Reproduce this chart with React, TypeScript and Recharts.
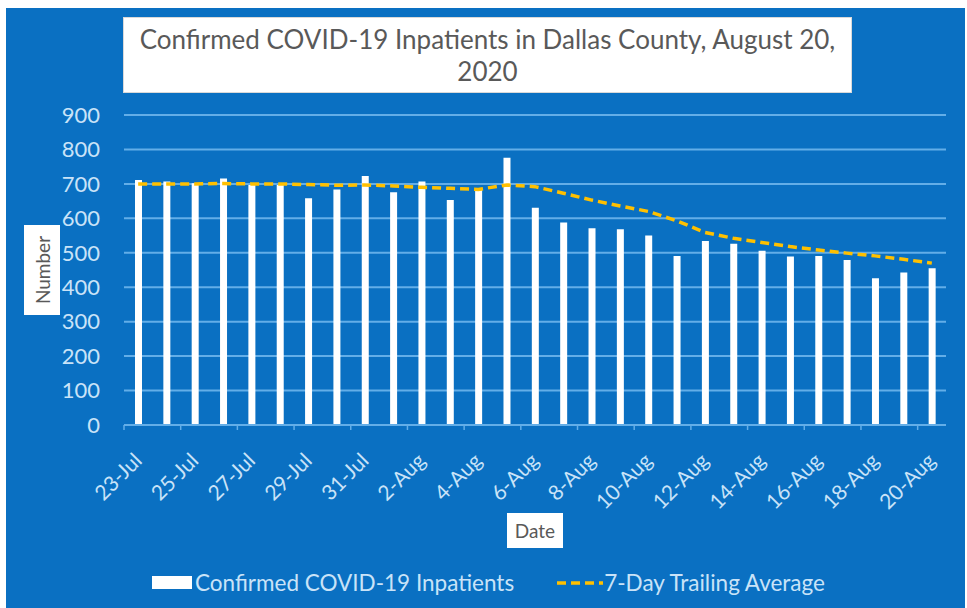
import {
  ComposedChart,
  Bar,
  Line,
  XAxis,
  YAxis,
  CartesianGrid,
  Legend,
  Label,
} from "recharts";

// ─── Data ─────────────────────────────────────────────────────────────────────

const dates = [
  "23-Jul", "24-Jul", "25-Jul", "26-Jul", "27-Jul", "28-Jul", "29-Jul", "30-Jul", "31-Jul",
  "1-Aug", "2-Aug", "3-Aug", "4-Aug", "5-Aug", "6-Aug", "7-Aug", "8-Aug", "9-Aug", "10-Aug",
  "11-Aug", "12-Aug", "13-Aug", "14-Aug", "15-Aug", "16-Aug", "17-Aug", "18-Aug", "19-Aug", "20-Aug",
];

const inpatients = [
  711, 707, 702, 716, 697, 697, 658, 684, 723,
  676, 707, 653, 682, 776, 631, 588, 571, 568, 550,
  491, 534, 526, 506, 489, 491, 479, 426, 443, 455,
];

const trailingAvg = [
  700, 700, 700, 701, 700, 700, 698, 696, 697,
  694, 690, 687, 684, 697, 692, 673, 653, 636, 620,
  593, 559, 542, 530, 518, 508, 499, 491, 481, 470,
];

const yTicks = [0, 100, 200, 300, 400, 500, 600, 700, 800, 900];

const data = dates.map((date, i) => ({
  date,
  inpatients: inpatients[i],
  avg: trailingAvg[i],
}));

// ─── Styling ──────────────────────────────────────────────────────────────────

const FONT = "Lato, 'Open Sans', sans-serif";
const BG = "#0A70C2";
const GRID = "#63AEE8";
const TEXT_LIGHT = "#C9E3F8";
const TEXT_DARK = "#595959";
const AVG_COLOR = "#FFC000";

const W = 967;
const H = 608;
const PLOT_LEFT = 124;
const PLOT_RIGHT = 946;
const BAND = (PLOT_RIGHT - PLOT_LEFT) / dates.length;

// ─── Ticks & labels ──────────────────────────────────────────────────────────

function DateTick({ x, y, payload }: { x?: number; y?: number; payload?: { value: string } }) {
  const cx = x ?? 0;
  const cy = y ?? 0;
  const tx = cx + 5;
  const ty = cy + 37;
  return (
    <g>
      <line x1={cx - BAND / 2} x2={cx - BAND / 2} y1={cy} y2={cy + 5} stroke={GRID} strokeWidth={1.5} />
      <text
        x={tx}
        y={ty}
        transform={`rotate(-45, ${tx}, ${ty})`}
        textAnchor="end"
        fill={TEXT_LIGHT}
        fontFamily={FONT}
        fontSize={21}
      >
        {payload?.value}
      </text>
    </g>
  );
}

function BoxLabel({ viewBox, text, vertical }: { viewBox?: any; text: string; vertical?: boolean }) {
  if (!viewBox) return null;
  const { x, y, width, height } = viewBox;
  if (vertical) {
    const cx = x - 22;
    const cy = y + height / 2;
    return (
      <g>
        <rect x={cx - 18} y={cy - 45} width={36} height={90} fill="#fff" />
        <text
          x={cx}
          y={cy}
          transform={`rotate(-90, ${cx}, ${cy})`}
          textAnchor="middle"
          dominantBaseline="central"
          fill={TEXT_DARK}
          fontFamily={FONT}
          fontSize={19}
        >
          {text}
        </text>
      </g>
    );
  }
  const cx = x + width / 2;
  const cy = y + 105;
  return (
    <g>
      <rect x={cx - 28} y={cy - 17} width={56} height={35} fill="#fff" />
      <text
        x={cx}
        y={cy}
        textAnchor="middle"
        dominantBaseline="central"
        fill={TEXT_DARK}
        fontFamily={FONT}
        fontSize={19}
      >
        {text}
      </text>
    </g>
  );
}

function LegendContent({ payload }: { payload?: { value: string; type?: string; color?: string }[] }) {
  // bars first, then the average line, as in the source chart
  const items = [...(payload ?? [])].sort((a, b) => (a.type === "line" ? 1 : 0) - (b.type === "line" ? 1 : 0));
  return (
    <div
      style={{
        display: "flex",
        alignItems: "center",
        fontFamily: FONT,
        fontSize: 22.5,
        color: TEXT_LIGHT,
        whiteSpace: "nowrap",
      }}
    >
      {items.map((entry, i) => (
        <span key={entry.value} style={{ display: "flex", alignItems: "center", marginLeft: i ? 43 : 0 }}>
          {entry.type === "line" ? (
            <svg width={46} height={10} style={{ marginRight: 1 }}>
              <line x1={0} x2={46} y1={5} y2={5} stroke={AVG_COLOR} strokeWidth={3.5} strokeDasharray="9 5" />
            </svg>
          ) : (
            <span style={{ width: 40, height: 13, background: "#fff", marginRight: 3 }} />
          )}
          {entry.value}
        </span>
      ))}
    </div>
  );
}

// ─── Component ────────────────────────────────────────────────────────────────

export default function App() {
  return (
    <div style={{ position: "absolute", left: 0, top: 0, width: W, height: H, background: "#fff", overflow: "hidden" }}>
      <div style={{ position: "absolute", left: 6, top: 8, width: 959, height: 600, background: BG }} />

      <div style={{ position: "absolute", left: 0, top: 0 }}>
        <ComposedChart
          width={W}
          height={H}
          data={data}
          margin={{ top: 115, right: W - PLOT_RIGHT, bottom: 93, left: PLOT_LEFT - 60 }}
          barCategoryGap={0}
        >
          <CartesianGrid horizontal vertical={false} stroke={GRID} strokeWidth={2} />
          <XAxis
            dataKey="date"
            interval={1}
            height={90}
            tickSize={0}
            tickMargin={0}
            tickLine={false}
            axisLine={{ stroke: GRID, strokeWidth: 2 }}
            tick={<DateTick />}
          >
            <Label content={<BoxLabel text="Date" />} />
          </XAxis>
          <YAxis
            domain={[0, 900]}
            ticks={yTicks}
            interval={0}
            width={60}
            tickSize={20}
            tickMargin={4}
            tickLine={false}
            axisLine={false}
            tick={{ fill: TEXT_LIGHT, fontFamily: FONT, fontSize: 22 }}
          >
            <Label content={<BoxLabel text="Number" vertical />} />
          </YAxis>
          <Legend
            layout="horizontal"
            verticalAlign="middle"
            align="center"
            wrapperStyle={{ top: 569, left: 152, width: 720 }}
            content={<LegendContent />}
          />
          <Bar
            dataKey="inpatients"
            name="Confirmed COVID-19 Inpatients"
            fill="#FFFFFF"
            barSize={7}
            isAnimationActive={false}
          />
          <Line
            dataKey="avg"
            name="7-Day Trailing Average"
            type="linear"
            stroke={AVG_COLOR}
            strokeWidth={3.5}
            strokeDasharray="9 5"
            dot={false}
            activeDot={false}
            legendType="line"
            isAnimationActive={false}
          />
        </ComposedChart>
      </div>

      <div
        style={{
          position: "absolute",
          left: 123,
          top: 17,
          width: 729,
          height: 76,
          background: "#fff",
          boxSizing: "border-box",
          border: "1px solid #d9d9d9",
          display: "flex",
          alignItems: "center",
          justifyContent: "center",
          textAlign: "center",
          fontFamily: FONT,
          fontSize: 26,
          lineHeight: "32px",
          color: TEXT_DARK,
        }}
      >
        Confirmed COVID-19 Inpatients in Dallas County, August 20,
        <br />
        2020
      </div>
    </div>
  );
}
